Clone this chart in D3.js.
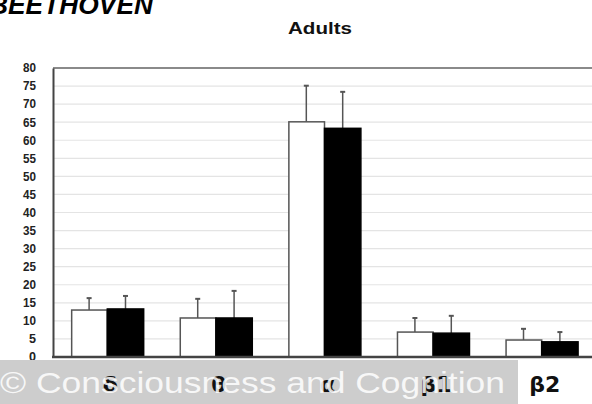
<!DOCTYPE html>
<html>
<head>
<meta charset="utf-8">
<script src="https://cdn.jsdelivr.net/npm/d3@7"></script>
<style>
  html, body { margin: 0; padding: 0; background: #fff; }
  svg { display: block; }
</style>
</head>
<body>
<svg id="chart" width="592" height="404"></svg>
<script>
// EEG frequency bands and mean power (%) for the two listening conditions
const bands = ["δ", "θ", "α", "β1", "β2"];
const conditionA = [13.0, 10.8, 65.1, 6.9, 4.7];   // white bars
const conditionB = [13.3, 10.8, 63.3, 6.6, 4.2];   // black bars
const errorA = [3.3, 5.3, 10.0, 3.9, 3.1];
const errorB = [3.6, 7.5, 10.1, 4.8, 2.7];
const yTicks = [0, 5, 10, 15, 20, 25, 30, 35, 40, 45, 50, 55, 60, 65, 70, 75, 80];

const svg = d3.select("#chart");
const plotLeft = 53, plotTop = 68, plotBottom = 357, plotRight = 596;

const y = d3.scaleLinear().domain([0, 80]).range([plotBottom, plotTop]);
const x0 = d3.scaleBand().domain(bands).range([plotLeft, plotRight])
  .paddingInner(0.33).paddingOuter(0.165);
const x1 = d3.scaleBand().domain(["A", "B"]).range([0, x0.bandwidth()]);

// horizontal grid
svg.append("g").selectAll("line").data(yTicks.filter(t => t > 0 && t < 80)).join("line")
  .attr("x1", plotLeft).attr("x2", 592)
  .attr("y1", d => y(d)).attr("y2", d => y(d))
  .attr("stroke", "#e4e4e4").attr("stroke-width", 1.2);

// plot frame (top edge)
svg.append("line").attr("x1", plotLeft).attr("x2", 592).attr("y1", plotTop).attr("y2", plotTop)
  .attr("stroke", "#8a8a8a").attr("stroke-width", 2);

// y axis
const yAxis = svg.append("g").attr("transform", `translate(${plotLeft},0)`)
  .call(d3.axisLeft(y).tickValues(yTicks).tickSize(0).tickPadding(17));
yAxis.select(".domain").attr("stroke", "#444").attr("stroke-width", 2);
yAxis.selectAll("text")
  .attr("font-family", "Liberation Sans, Arial, sans-serif")
  .attr("font-size", 12).attr("font-weight", "bold").attr("fill", "#222")
  .attr("textLength", d => d < 10 ? 7 : 13).attr("lengthAdjust", "spacingAndGlyphs");

// bars
const rows = bands.map((b, i) => [
  { band: b, key: "A", v: conditionA[i], e: errorA[i] },
  { band: b, key: "B", v: conditionB[i], e: errorB[i] }
]).flat();

const bx = d => x0(d.band) + x1(d.key);

// error bars
const eg = svg.append("g");
eg.selectAll("line.stem").data(rows).join("line").attr("class", "stem")
  .attr("x1", d => bx(d) + x1.bandwidth() / 2).attr("x2", d => bx(d) + x1.bandwidth() / 2)
  .attr("y1", d => y(d.v)).attr("y2", d => y(d.v + d.e))
  .attr("stroke", "#555").attr("stroke-width", 1.5);
eg.selectAll("line.cap").data(rows).join("line").attr("class", "cap")
  .attr("x1", d => bx(d) + x1.bandwidth() / 2 - 2.5).attr("x2", d => bx(d) + x1.bandwidth() / 2 + 2.5)
  .attr("y1", d => y(d.v + d.e)).attr("y2", d => y(d.v + d.e))
  .attr("stroke", "#555").attr("stroke-width", 2);

svg.append("g").selectAll("rect").data(rows).join("rect")
  .attr("x", d => bx(d) + (d.key === "A" ? 0.75 : 0))
  .attr("y", d => y(d.v))
  .attr("width", d => x1.bandwidth() - (d.key === "A" ? 0.75 : 0))
  .attr("height", d => plotBottom - y(d.v))
  .attr("fill", d => d.key === "A" ? "#fff" : "#000")
  .attr("stroke", d => d.key === "A" ? "#555" : "#000")
  .attr("stroke-width", 1.5);

// x axis line
svg.append("line").attr("x1", plotLeft - 1).attr("x2", 592).attr("y1", plotBottom).attr("y2", plotBottom)
  .attr("stroke", "#444").attr("stroke-width", 2.5);

// credit band
svg.append("rect").attr("x", 0).attr("y", 360).attr("width", 518).attr("height", 44)
  .attr("fill", "#cdcdcd");

// band labels
svg.append("g").selectAll("text").data(bands).join("text")
  .attr("x", d => x0(d) + x0.bandwidth() / 2 + 3)
  .attr("y", 392)
  .attr("text-anchor", "middle")
  .attr("font-family", "DejaVu Sans, sans-serif")
  .attr("font-size", 22).attr("font-weight", "bold").attr("fill", "#111")
  .text(d => d);

svg.append("text").attr("x", 0).attr("y", 393)
  .attr("font-family", "Liberation Sans, Arial, sans-serif")
  .attr("font-size", 30).attr("fill", "#fff").attr("fill-opacity", 0.85)
  .attr("textLength", 505).attr("lengthAdjust", "spacingAndGlyphs")
  .text("© Consciousness and Cognition");

// titles
svg.append("text").attr("x", 320).attr("y", 34).attr("text-anchor", "middle")
  .attr("font-family", "Liberation Sans, Arial, sans-serif")
  .attr("font-size", 17).attr("font-weight", "bold").attr("fill", "#111")
  .attr("textLength", 64).attr("lengthAdjust", "spacingAndGlyphs")
  .text("Adults");

svg.append("text").attr("x", -11).attr("y", 14)
  .attr("font-family", "Liberation Sans, Arial, sans-serif")
  .attr("font-size", 25).attr("font-weight", "bold").attr("font-style", "italic")
  .attr("fill", "#000")
  .attr("textLength", 164).attr("lengthAdjust", "spacingAndGlyphs")
  .text("BEETHOVEN");
</script>
</body>
</html>
